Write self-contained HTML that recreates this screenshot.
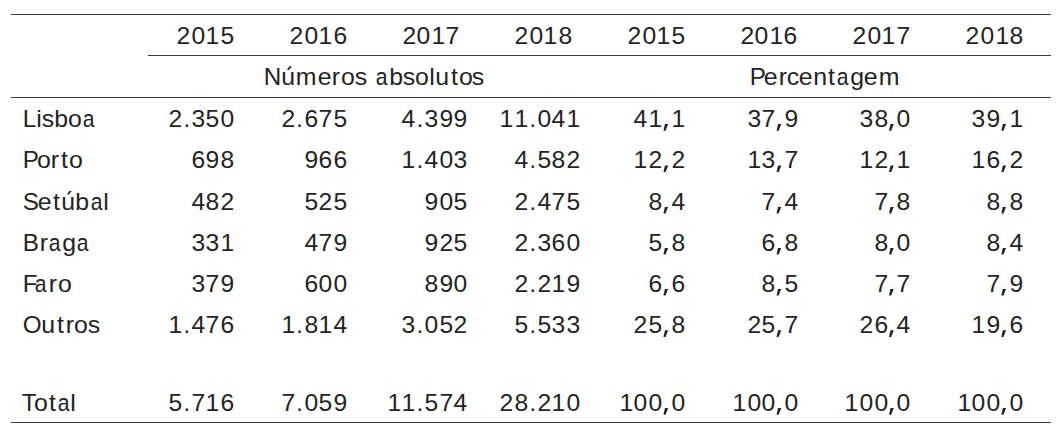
<!DOCTYPE html>
<html><head><meta charset="utf-8"><style>
html,body{margin:0;padding:0;background:#fff;}
body{width:1062px;height:432px;position:relative;overflow:hidden;}
.t{position:absolute;font-family:"Liberation Sans",sans-serif;font-size:23.5px;line-height:30px;color:#242424;white-space:nowrap;}
.t i{display:inline-block;text-align:center;font-style:normal;transform-origin:50% 23.14px;}
.t i.d{transform:scaleX(1.05);}
.t i.U{transform:scaleX(1.03);}
.t i.l{transform:scale(1.06,1.04);}
.t i.la{transform:scale(0.9,1.04);transform-origin:42% 23.14px;}
.t i.ac{position:relative;}
.t i.ac b{position:absolute;left:0;top:4.34px;height:3.7px;background:#242424;}
.t i.cm{position:relative;color:transparent;}
.t i.cm b{position:absolute;left:0;top:20.14px;width:8px;height:7px;background:#242424;clip-path:polygon(2.4px 0px, 5.7px 0px, 3.0px 6.85px, 0.9px 6.85px);}
.ln{position:absolute;height:1px;background:#3a3a3a;}
</style></head><body>
<div class="ln" style="left:11px;top:14px;width:1040px"></div>
<div class="ln" style="left:148px;top:55px;width:903px"></div>
<div class="ln" style="left:11px;top:97px;width:1040px"></div>
<div class="ln" style="left:11px;top:422px;width:1040px"></div>
<span class="t" style="right:827.50px;top:20.86px"><i class="d" style="width:14.558px;">2</i><i class="d" style="width:14.558px;">0</i><i class="d" style="width:14.558px;">1</i><i class="d" style="width:14.558px;">5</i></span>
<span class="t" style="right:714.60px;top:20.86px"><i class="d" style="width:14.558px;">2</i><i class="d" style="width:14.558px;">0</i><i class="d" style="width:14.558px;">1</i><i class="d" style="width:14.558px;">6</i></span>
<span class="t" style="right:602.00px;top:20.86px"><i class="d" style="width:14.558px;">2</i><i class="d" style="width:14.558px;">0</i><i class="d" style="width:14.558px;">1</i><i class="d" style="width:14.558px;">7</i></span>
<span class="t" style="right:489.80px;top:20.86px"><i class="d" style="width:14.558px;">2</i><i class="d" style="width:14.558px;">0</i><i class="d" style="width:14.558px;">1</i><i class="d" style="width:14.558px;">8</i></span>
<span class="t" style="right:376.70px;top:20.86px"><i class="d" style="width:14.558px;">2</i><i class="d" style="width:14.558px;">0</i><i class="d" style="width:14.558px;">1</i><i class="d" style="width:14.558px;">5</i></span>
<span class="t" style="right:264.20px;top:20.86px"><i class="d" style="width:14.558px;">2</i><i class="d" style="width:14.558px;">0</i><i class="d" style="width:14.558px;">1</i><i class="d" style="width:14.558px;">6</i></span>
<span class="t" style="right:151.70px;top:20.86px"><i class="d" style="width:14.558px;">2</i><i class="d" style="width:14.558px;">0</i><i class="d" style="width:14.558px;">1</i><i class="d" style="width:14.558px;">7</i></span>
<span class="t" style="right:38.40px;top:20.86px"><i class="d" style="width:14.558px;">2</i><i class="d" style="width:14.558px;">0</i><i class="d" style="width:14.558px;">1</i><i class="d" style="width:14.558px;">8</i></span>
<span class="t" style="left:263.80px;top:61.86px"><i class="U" style="width:17.130px;">N</i><i class="ac" style="width:14.491px;"><i class="l" style="width:14.491px">u</i><b style="width:14.491px;clip-path:polygon(8.45px 0px, 10.95px 0px, 7.95px 3.7px, 5.95px 3.7px)"></b></i><i class="l" style="width:22.274px;">m</i><i class="l" style="width:13.630px;">e</i><i class="l" style="width:9.773px;">r</i><i class="l" style="width:13.899px;">o</i><i class="l" style="width:11.931px;">s</i><i class="sp" style="width:8.051px;">&nbsp;</i><i class="l la" style="width:13.742px;">a</i><i class="l" style="width:14.268px;">b</i><i class="l" style="width:11.931px;">s</i><i class="l" style="width:13.899px;">o</i><i class="l" style="width:6.284px;">l</i><i class="l" style="width:14.491px;">u</i><i class="l" style="width:9.024px;">t</i><i class="l" style="width:13.899px;">o</i><i class="l" style="width:11.931px;">s</i></span>
<span class="t" style="left:750.20px;top:61.86px"><i class="U" style="width:13.809px;">P</i><i class="l" style="width:13.630px;">e</i><i class="l" style="width:9.773px;">r</i><i class="l" style="width:11.931px;">c</i><i class="l" style="width:13.630px;">e</i><i class="l" style="width:14.491px;">n</i><i class="l" style="width:9.024px;">t</i><i class="l la" style="width:13.742px;">a</i><i class="l" style="width:14.268px;">g</i><i class="l" style="width:13.630px;">e</i><i class="l" style="width:22.274px;">m</i></span>
<span class="t" style="left:22.80px;top:103.86px"><i class="U" style="width:12.758px;">L</i><i class="l" style="width:6.284px;">i</i><i class="l" style="width:11.931px;">s</i><i class="l" style="width:14.268px;">b</i><i class="l" style="width:13.899px;">o</i><i class="l la" style="width:13.742px;">a</i></span>
<span class="t" style="right:827.50px;top:103.86px"><i class="d" style="width:14.558px;">2</i><i class="p" style="width:8.330px;">.</i><i class="d" style="width:14.558px;">3</i><i class="d" style="width:14.558px;">5</i><i class="d" style="width:14.558px;">0</i></span>
<span class="t" style="right:714.60px;top:103.86px"><i class="d" style="width:14.558px;">2</i><i class="p" style="width:8.330px;">.</i><i class="d" style="width:14.558px;">6</i><i class="d" style="width:14.558px;">7</i><i class="d" style="width:14.558px;">5</i></span>
<span class="t" style="right:594.10px;top:103.86px"><i class="d" style="width:14.558px;">4</i><i class="p" style="width:8.330px;">.</i><i class="d" style="width:14.558px;">3</i><i class="d" style="width:14.558px;">9</i><i class="d" style="width:14.558px;">9</i></span>
<span class="t" style="right:481.50px;top:103.86px"><i class="d" style="width:14.558px;">1</i><i class="d" style="width:14.558px;">1</i><i class="p" style="width:8.330px;">.</i><i class="d" style="width:14.558px;">0</i><i class="d" style="width:14.558px;">4</i><i class="d" style="width:14.558px;">1</i></span>
<span class="t" style="right:376.60px;top:103.86px"><i class="d" style="width:14.558px;">4</i><i class="d" style="width:14.558px;">1</i><i class="p cm" style="width:8.330px;">,<b></b></i><i class="d" style="width:14.558px;">1</i></span>
<span class="t" style="right:263.50px;top:103.86px"><i class="d" style="width:14.558px;">3</i><i class="d" style="width:14.558px;">7</i><i class="p cm" style="width:8.330px;">,<b></b></i><i class="d" style="width:14.558px;">9</i></span>
<span class="t" style="right:151.00px;top:103.86px"><i class="d" style="width:14.558px;">3</i><i class="d" style="width:14.558px;">8</i><i class="p cm" style="width:8.330px;">,<b></b></i><i class="d" style="width:14.558px;">0</i></span>
<span class="t" style="right:38.70px;top:103.86px"><i class="d" style="width:14.558px;">3</i><i class="d" style="width:14.558px;">9</i><i class="p cm" style="width:8.330px;">,<b></b></i><i class="d" style="width:14.558px;">1</i></span>
<span class="t" style="left:22.80px;top:145.36px"><i class="U" style="width:13.809px;">P</i><i class="l" style="width:13.899px;">o</i><i class="l" style="width:9.773px;">r</i><i class="l" style="width:9.024px;">t</i><i class="l" style="width:13.899px;">o</i></span>
<span class="t" style="right:827.50px;top:145.36px"><i class="d" style="width:14.558px;">6</i><i class="d" style="width:14.558px;">9</i><i class="d" style="width:14.558px;">8</i></span>
<span class="t" style="right:714.60px;top:145.36px"><i class="d" style="width:14.558px;">9</i><i class="d" style="width:14.558px;">6</i><i class="d" style="width:14.558px;">6</i></span>
<span class="t" style="right:594.10px;top:145.36px"><i class="d" style="width:14.558px;">1</i><i class="p" style="width:8.330px;">.</i><i class="d" style="width:14.558px;">4</i><i class="d" style="width:14.558px;">0</i><i class="d" style="width:14.558px;">3</i></span>
<span class="t" style="right:481.50px;top:145.36px"><i class="d" style="width:14.558px;">4</i><i class="p" style="width:8.330px;">.</i><i class="d" style="width:14.558px;">5</i><i class="d" style="width:14.558px;">8</i><i class="d" style="width:14.558px;">2</i></span>
<span class="t" style="right:376.60px;top:145.36px"><i class="d" style="width:14.558px;">1</i><i class="d" style="width:14.558px;">2</i><i class="p cm" style="width:8.330px;">,<b></b></i><i class="d" style="width:14.558px;">2</i></span>
<span class="t" style="right:263.50px;top:145.36px"><i class="d" style="width:14.558px;">1</i><i class="d" style="width:14.558px;">3</i><i class="p cm" style="width:8.330px;">,<b></b></i><i class="d" style="width:14.558px;">7</i></span>
<span class="t" style="right:151.00px;top:145.36px"><i class="d" style="width:14.558px;">1</i><i class="d" style="width:14.558px;">2</i><i class="p cm" style="width:8.330px;">,<b></b></i><i class="d" style="width:14.558px;">1</i></span>
<span class="t" style="right:38.70px;top:145.36px"><i class="d" style="width:14.558px;">1</i><i class="d" style="width:14.558px;">6</i><i class="p cm" style="width:8.330px;">,<b></b></i><i class="d" style="width:14.558px;">2</i></span>
<span class="t" style="left:22.60px;top:186.56px"><i class="U" style="width:15.665px;">S</i><i class="l" style="width:13.630px;">e</i><i class="l" style="width:9.024px;">t</i><i class="ac" style="width:14.491px;"><i class="l" style="width:14.491px">u</i><b style="width:14.491px;clip-path:polygon(8.45px 0px, 10.95px 0px, 7.95px 3.7px, 5.95px 3.7px)"></b></i><i class="l" style="width:14.268px;">b</i><i class="l la" style="width:13.742px;">a</i><i class="l" style="width:6.284px;">l</i></span>
<span class="t" style="right:827.50px;top:186.56px"><i class="d" style="width:14.558px;">4</i><i class="d" style="width:14.558px;">8</i><i class="d" style="width:14.558px;">2</i></span>
<span class="t" style="right:714.60px;top:186.56px"><i class="d" style="width:14.558px;">5</i><i class="d" style="width:14.558px;">2</i><i class="d" style="width:14.558px;">5</i></span>
<span class="t" style="right:594.10px;top:186.56px"><i class="d" style="width:14.558px;">9</i><i class="d" style="width:14.558px;">0</i><i class="d" style="width:14.558px;">5</i></span>
<span class="t" style="right:481.50px;top:186.56px"><i class="d" style="width:14.558px;">2</i><i class="p" style="width:8.330px;">.</i><i class="d" style="width:14.558px;">4</i><i class="d" style="width:14.558px;">7</i><i class="d" style="width:14.558px;">5</i></span>
<span class="t" style="right:376.60px;top:186.56px"><i class="d" style="width:14.558px;">8</i><i class="p cm" style="width:8.330px;">,<b></b></i><i class="d" style="width:14.558px;">4</i></span>
<span class="t" style="right:263.50px;top:186.56px"><i class="d" style="width:14.558px;">7</i><i class="p cm" style="width:8.330px;">,<b></b></i><i class="d" style="width:14.558px;">4</i></span>
<span class="t" style="right:151.00px;top:186.56px"><i class="d" style="width:14.558px;">7</i><i class="p cm" style="width:8.330px;">,<b></b></i><i class="d" style="width:14.558px;">8</i></span>
<span class="t" style="right:38.70px;top:186.56px"><i class="d" style="width:14.558px;">8</i><i class="p cm" style="width:8.330px;">,<b></b></i><i class="d" style="width:14.558px;">8</i></span>
<span class="t" style="left:22.80px;top:227.56px"><i class="U" style="width:15.710px;">B</i><i class="l" style="width:9.773px;">r</i><i class="l la" style="width:13.742px;">a</i><i class="l" style="width:14.268px;">g</i><i class="l la" style="width:13.742px;">a</i></span>
<span class="t" style="right:827.50px;top:227.56px"><i class="d" style="width:14.558px;">3</i><i class="d" style="width:14.558px;">3</i><i class="d" style="width:14.558px;">1</i></span>
<span class="t" style="right:714.60px;top:227.56px"><i class="d" style="width:14.558px;">4</i><i class="d" style="width:14.558px;">7</i><i class="d" style="width:14.558px;">9</i></span>
<span class="t" style="right:594.10px;top:227.56px"><i class="d" style="width:14.558px;">9</i><i class="d" style="width:14.558px;">2</i><i class="d" style="width:14.558px;">5</i></span>
<span class="t" style="right:481.50px;top:227.56px"><i class="d" style="width:14.558px;">2</i><i class="p" style="width:8.330px;">.</i><i class="d" style="width:14.558px;">3</i><i class="d" style="width:14.558px;">6</i><i class="d" style="width:14.558px;">0</i></span>
<span class="t" style="right:376.60px;top:227.56px"><i class="d" style="width:14.558px;">5</i><i class="p cm" style="width:8.330px;">,<b></b></i><i class="d" style="width:14.558px;">8</i></span>
<span class="t" style="right:263.50px;top:227.56px"><i class="d" style="width:14.558px;">6</i><i class="p cm" style="width:8.330px;">,<b></b></i><i class="d" style="width:14.558px;">8</i></span>
<span class="t" style="right:151.00px;top:227.56px"><i class="d" style="width:14.558px;">8</i><i class="p cm" style="width:8.330px;">,<b></b></i><i class="d" style="width:14.558px;">0</i></span>
<span class="t" style="right:38.70px;top:227.56px"><i class="d" style="width:14.558px;">8</i><i class="p cm" style="width:8.330px;">,<b></b></i><i class="d" style="width:14.558px;">4</i></span>
<span class="t" style="left:22.80px;top:268.56px"><i class="U" style="width:13.172px;margin-right:-1.5px;">F</i><i class="l la" style="width:13.742px;">a</i><i class="l" style="width:9.773px;">r</i><i class="l" style="width:13.899px;">o</i></span>
<span class="t" style="right:827.50px;top:268.56px"><i class="d" style="width:14.558px;">3</i><i class="d" style="width:14.558px;">7</i><i class="d" style="width:14.558px;">9</i></span>
<span class="t" style="right:714.60px;top:268.56px"><i class="d" style="width:14.558px;">6</i><i class="d" style="width:14.558px;">0</i><i class="d" style="width:14.558px;">0</i></span>
<span class="t" style="right:594.10px;top:268.56px"><i class="d" style="width:14.558px;">8</i><i class="d" style="width:14.558px;">9</i><i class="d" style="width:14.558px;">0</i></span>
<span class="t" style="right:481.50px;top:268.56px"><i class="d" style="width:14.558px;">2</i><i class="p" style="width:8.330px;">.</i><i class="d" style="width:14.558px;">2</i><i class="d" style="width:14.558px;">1</i><i class="d" style="width:14.558px;">9</i></span>
<span class="t" style="right:376.60px;top:268.56px"><i class="d" style="width:14.558px;">6</i><i class="p cm" style="width:8.330px;">,<b></b></i><i class="d" style="width:14.558px;">6</i></span>
<span class="t" style="right:263.50px;top:268.56px"><i class="d" style="width:14.558px;">8</i><i class="p cm" style="width:8.330px;">,<b></b></i><i class="d" style="width:14.558px;">5</i></span>
<span class="t" style="right:151.00px;top:268.56px"><i class="d" style="width:14.558px;">7</i><i class="p cm" style="width:8.330px;">,<b></b></i><i class="d" style="width:14.558px;">7</i></span>
<span class="t" style="right:38.70px;top:268.56px"><i class="d" style="width:14.558px;">7</i><i class="p cm" style="width:8.330px;">,<b></b></i><i class="d" style="width:14.558px;">9</i></span>
<span class="t" style="left:23.00px;top:310.06px"><i class="U" style="width:18.025px;">O</i><i class="l" style="width:14.491px;">u</i><i class="l" style="width:9.024px;">t</i><i class="l" style="width:9.773px;">r</i><i class="l" style="width:13.899px;">o</i><i class="l" style="width:11.931px;">s</i></span>
<span class="t" style="right:827.50px;top:310.06px"><i class="d" style="width:14.558px;">1</i><i class="p" style="width:8.330px;">.</i><i class="d" style="width:14.558px;">4</i><i class="d" style="width:14.558px;">7</i><i class="d" style="width:14.558px;">6</i></span>
<span class="t" style="right:714.60px;top:310.06px"><i class="d" style="width:14.558px;">1</i><i class="p" style="width:8.330px;">.</i><i class="d" style="width:14.558px;">8</i><i class="d" style="width:14.558px;">1</i><i class="d" style="width:14.558px;">4</i></span>
<span class="t" style="right:594.10px;top:310.06px"><i class="d" style="width:14.558px;">3</i><i class="p" style="width:8.330px;">.</i><i class="d" style="width:14.558px;">0</i><i class="d" style="width:14.558px;">5</i><i class="d" style="width:14.558px;">2</i></span>
<span class="t" style="right:481.50px;top:310.06px"><i class="d" style="width:14.558px;">5</i><i class="p" style="width:8.330px;">.</i><i class="d" style="width:14.558px;">5</i><i class="d" style="width:14.558px;">3</i><i class="d" style="width:14.558px;">3</i></span>
<span class="t" style="right:376.60px;top:310.06px"><i class="d" style="width:14.558px;">2</i><i class="d" style="width:14.558px;">5</i><i class="p cm" style="width:8.330px;">,<b></b></i><i class="d" style="width:14.558px;">8</i></span>
<span class="t" style="right:263.50px;top:310.06px"><i class="d" style="width:14.558px;">2</i><i class="d" style="width:14.558px;">5</i><i class="p cm" style="width:8.330px;">,<b></b></i><i class="d" style="width:14.558px;">7</i></span>
<span class="t" style="right:151.00px;top:310.06px"><i class="d" style="width:14.558px;">2</i><i class="d" style="width:14.558px;">6</i><i class="p cm" style="width:8.330px;">,<b></b></i><i class="d" style="width:14.558px;">4</i></span>
<span class="t" style="right:38.70px;top:310.06px"><i class="d" style="width:14.558px;">1</i><i class="d" style="width:14.558px;">9</i><i class="p cm" style="width:8.330px;">,<b></b></i><i class="d" style="width:14.558px;">6</i></span>
<span class="t" style="left:21.60px;top:387.86px"><i class="U" style="width:14.033px;margin-right:-1.8px;">T</i><i class="l" style="width:13.899px;">o</i><i class="l" style="width:9.024px;">t</i><i class="l la" style="width:13.742px;">a</i><i class="l" style="width:6.284px;">l</i></span>
<span class="t" style="right:827.50px;top:387.86px"><i class="d" style="width:14.558px;">5</i><i class="p" style="width:8.330px;">.</i><i class="d" style="width:14.558px;">7</i><i class="d" style="width:14.558px;">1</i><i class="d" style="width:14.558px;">6</i></span>
<span class="t" style="right:714.60px;top:387.86px"><i class="d" style="width:14.558px;">7</i><i class="p" style="width:8.330px;">.</i><i class="d" style="width:14.558px;">0</i><i class="d" style="width:14.558px;">5</i><i class="d" style="width:14.558px;">9</i></span>
<span class="t" style="right:594.10px;top:387.86px"><i class="d" style="width:14.558px;">1</i><i class="d" style="width:14.558px;">1</i><i class="p" style="width:8.330px;">.</i><i class="d" style="width:14.558px;">5</i><i class="d" style="width:14.558px;">7</i><i class="d" style="width:14.558px;">4</i></span>
<span class="t" style="right:481.50px;top:387.86px"><i class="d" style="width:14.558px;">2</i><i class="d" style="width:14.558px;">8</i><i class="p" style="width:8.330px;">.</i><i class="d" style="width:14.558px;">2</i><i class="d" style="width:14.558px;">1</i><i class="d" style="width:14.558px;">0</i></span>
<span class="t" style="right:376.60px;top:387.86px"><i class="d" style="width:14.558px;">1</i><i class="d" style="width:14.558px;">0</i><i class="d" style="width:14.558px;">0</i><i class="p cm" style="width:8.330px;">,<b></b></i><i class="d" style="width:14.558px;">0</i></span>
<span class="t" style="right:263.50px;top:387.86px"><i class="d" style="width:14.558px;">1</i><i class="d" style="width:14.558px;">0</i><i class="d" style="width:14.558px;">0</i><i class="p cm" style="width:8.330px;">,<b></b></i><i class="d" style="width:14.558px;">0</i></span>
<span class="t" style="right:151.00px;top:387.86px"><i class="d" style="width:14.558px;">1</i><i class="d" style="width:14.558px;">0</i><i class="d" style="width:14.558px;">0</i><i class="p cm" style="width:8.330px;">,<b></b></i><i class="d" style="width:14.558px;">0</i></span>
<span class="t" style="right:38.70px;top:387.86px"><i class="d" style="width:14.558px;">1</i><i class="d" style="width:14.558px;">0</i><i class="d" style="width:14.558px;">0</i><i class="p cm" style="width:8.330px;">,<b></b></i><i class="d" style="width:14.558px;">0</i></span>
</body></html>
